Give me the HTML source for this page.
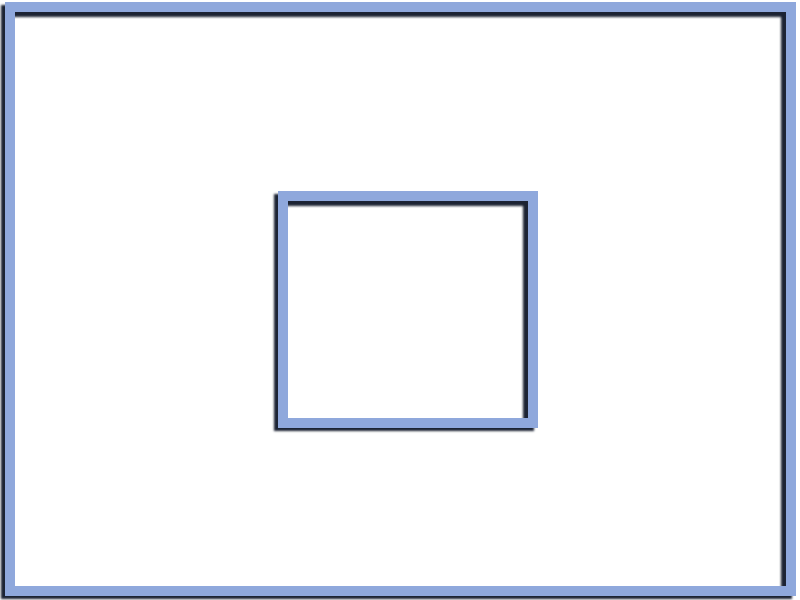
<!DOCTYPE html>
<html><head><style>
html,body{margin:0;padding:0;width:800px;height:600px;background:#fff;overflow:hidden}
.f{position:absolute;box-sizing:border-box;border:10px solid #8fa8dc;
box-shadow:-4px 3px 2px #1c2333, inset -5px 5px 2px #1c2333;}
</style></head><body>
<div class="f" style="left:5px;top:2px;width:791px;height:594px"></div>
<div class="f" style="left:278px;top:191px;width:260px;height:237px"></div>
</body></html>
